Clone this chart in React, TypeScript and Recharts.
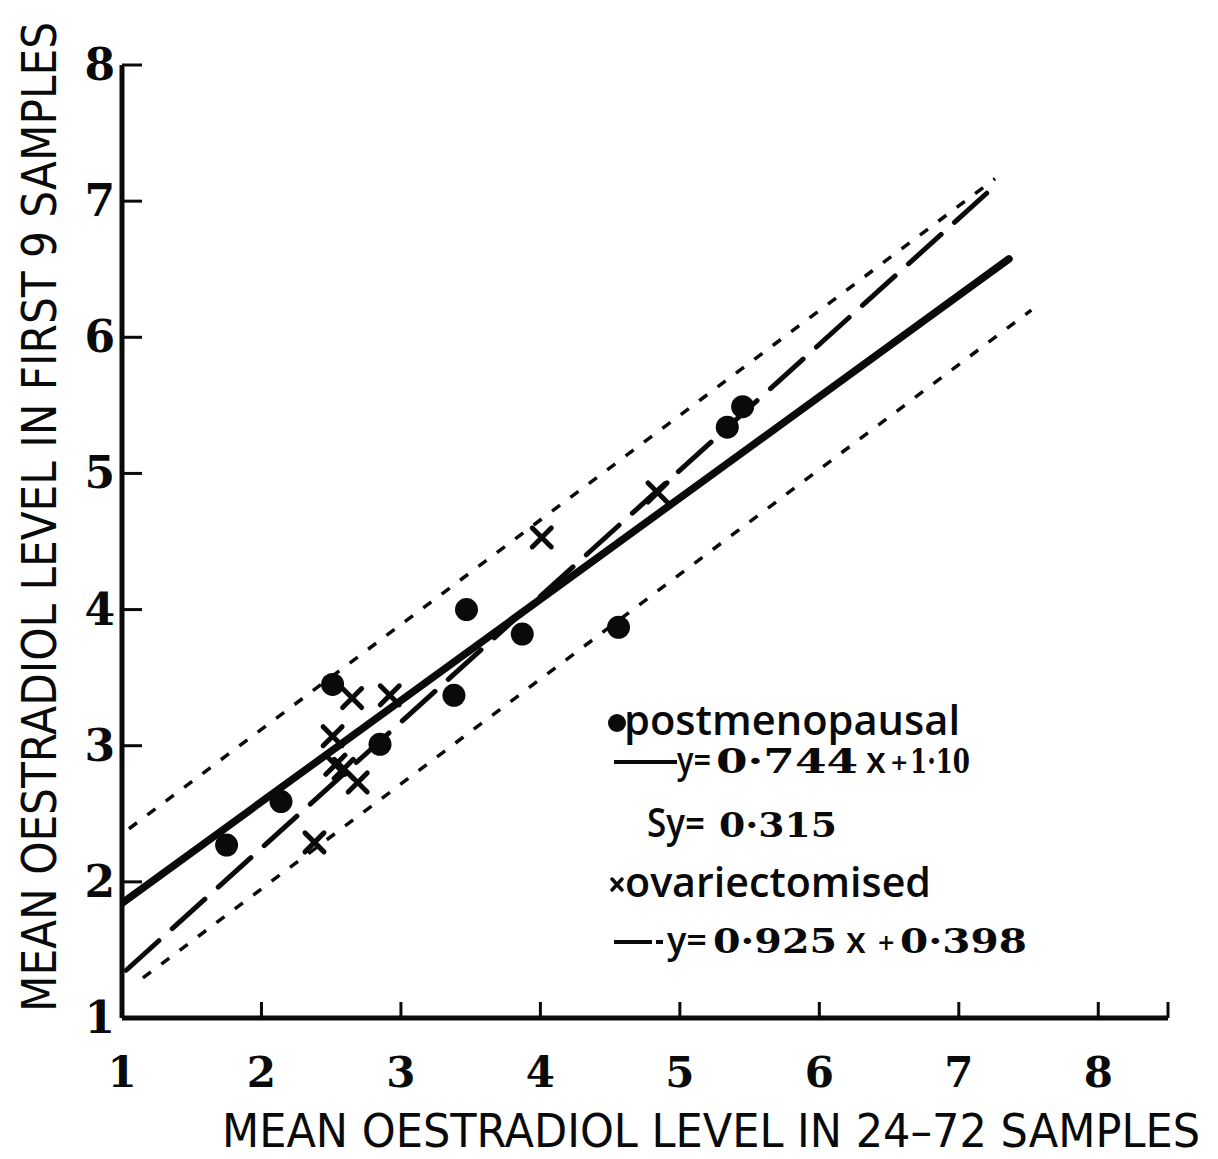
import { ComposedChart, Line, Scatter, XAxis, YAxis } from "recharts";

const xTicks = [1, 2, 3, 4, 5, 6, 7, 8, 8.5];
const yTicks = [1, 2, 3, 4, 5, 6, 7, 8];

// postmenopausal women (filled circles)
const postX = [1.75, 2.14, 2.51, 2.85, 3.38, 3.47, 3.87, 4.56, 5.34, 5.45];
const postY = [2.27, 2.59, 3.45, 3.01, 3.37, 4.0, 3.82, 3.87, 5.34, 5.49];

// ovariectomised women (crosses)
const ovxX = [2.38, 2.51, 2.53, 2.59, 2.65, 2.69, 2.92, 4.01, 4.84];
const ovxY = [2.29, 3.07, 2.86, 2.83, 3.35, 2.73, 3.37, 4.53, 4.86];

// regression fits from the key: [slope, intercept] and the x span drawn
const postFit = [0.744, 1.1];
const postFitSpan = [1, 7.36];
const ovxFit = [0.925, 0.398];
const ovxFitSpan = [1.03, 7.2];

// ±Sy band edges around the postmenopausal fit
const upperBandX = [1.05, 7.26];
const upperBandY = [2.39, 7.165];
const lowerBandX = [1.15, 7.52];
const lowerBandY = [1.294, 6.2];

const toPoints = (xs: number[], ys: number[]) => xs.map((x, i) => ({ x, y: ys[i] }));
const fitPoints = (fit: number[], span: number[]) =>
  span.map((x) => ({ x, y: fit[0] * x + fit[1] }));

const postData = toPoints(postX, postY);
const ovxData = toPoints(ovxX, ovxY);

const INK = "#0a0a0a";
const SERIF = "'DejaVu Serif', serif";
const SANS = "'Open Sans', 'DejaVu Sans', sans-serif";
const NARROW = "'Liberation Sans Narrow', 'DejaVu Sans Condensed', sans-serif";

const DotMark = (p: any) => <circle cx={p.cx} cy={p.cy} r={11.5} fill={INK} />;

const CrossMark = (p: any) => {
  const s = 9.5;
  return (
    <g stroke={INK} strokeWidth={5} strokeLinecap="round">
      <line x1={p.cx - s} y1={p.cy - s} x2={p.cx + s} y2={p.cy + s} />
      <line x1={p.cx - s} y1={p.cy + s} x2={p.cx + s} y2={p.cy - s} />
    </g>
  );
};

const XTick = (p: any) =>
  p.payload.value > 8 ? (
    <g />
  ) : (
    <text x={p.x} y={p.y} textAnchor="middle" fontFamily={SERIF} fontWeight="bold" fontSize={42} fill={INK}>
      {p.payload.value}
    </text>
  );

const YTick = (p: any) => (
  <text x={p.x} y={p.y + 15} textAnchor="end" fontFamily={SERIF} fontWeight="bold" fontSize={44} fill={INK}>
    {p.payload.value}
  </text>
);

function Key() {
  const num = { fontFamily: SERIF, fontWeight: "bold", fontSize: 34, fill: INK } as const;
  const word = { fontFamily: SANS, fontWeight: 600, fontSize: 42, fill: INK } as const;
  const fit = { lengthAdjust: "spacingAndGlyphs" } as const;
  return (
    <g>
      <circle cx={617} cy={723} r={9} fill={INK} />
      <text x={624} y={735} textLength={336} {...fit} {...word}>
        postmenopausal
      </text>

      <line x1={614} y1={762} x2={677} y2={762} stroke={INK} strokeWidth={4} />
      <text x={677} y={773} textLength={34} {...fit} {...word} fontSize={36}>y=</text>
      <text x={716} y={773} textLength={142} {...fit} {...num}>0·744</text>
      <text x={866} y={773} {...word} fontSize={36}>x</text>
      <text x={890} y={770} {...num} fontSize={22}>+</text>
      <text x={910} y={773} textLength={60} {...fit} {...num}>1·10</text>

      <text x={647} y={837} textLength={58} {...fit} {...word} fontSize={40}>Sy=</text>
      <text x={719} y={837} textLength={118} {...fit} {...num}>0·315</text>

      <g stroke={INK} strokeWidth={3.5} strokeLinecap="round">
        <line x1={612} y1={879} x2={622} y2={890} />
        <line x1={612} y1={890} x2={622} y2={879} />
      </g>
      <text x={625} y={897} textLength={306} {...fit} {...word}>
        ovariectomised
      </text>

      <line x1={614} y1={942} x2={652} y2={942} stroke={INK} strokeWidth={4} />
      <line x1={656} y1={942} x2={663} y2={942} stroke={INK} strokeWidth={4} />
      <text x={667} y={953} textLength={40} {...fit} {...word} fontSize={36}>y=</text>
      <text x={713} y={953} textLength={124} {...fit} {...num}>0·925</text>
      <text x={846} y={953} {...word} fontSize={36}>x</text>
      <text x={877} y={950} {...num} fontSize={22}>+</text>
      <text x={900} y={953} textLength={127} {...fit} {...num}>0·398</text>
    </g>
  );
}

export default function App() {
  return (
    <div style={{ position: "relative", width: 1218, height: 1159, background: "#fff" }}>
      <style>{"body{margin:0}"}</style>
      <ComposedChart width={1218} height={1159} margin={{ top: 65, right: 50, bottom: 111, left: 62 }}>
        <XAxis
          dataKey="x"
          type="number"
          domain={[1, 8.5]}
          ticks={xTicks}
          interval={0}
          allowDataOverflow
          axisLine={{ stroke: INK, strokeWidth: 5 }}
          tickLine={{ stroke: INK, strokeWidth: 3 }}
          tickSize={-16}
          tickMargin={85}
          tick={XTick}
        />
        <YAxis
          dataKey="y"
          type="number"
          domain={[1, 8]}
          ticks={yTicks}
          interval={0}
          allowDataOverflow
          axisLine={{ stroke: INK, strokeWidth: 5 }}
          tickLine={{ stroke: INK, strokeWidth: 3 }}
          tickSize={-20}
          tickMargin={27}
          tick={YTick}
        />
        <Line
          data={toPoints(upperBandX, upperBandY)}
          dataKey="y"
          type="linear"
          stroke={INK}
          strokeWidth={3.5}
          strokeDasharray="10 13"
          dot={false}
          isAnimationActive={false}
        />
        <Line
          data={toPoints(lowerBandX, lowerBandY)}
          dataKey="y"
          type="linear"
          stroke={INK}
          strokeWidth={3.5}
          strokeDasharray="10 13"
          dot={false}
          isAnimationActive={false}
        />
        <Line
          data={fitPoints(ovxFit, ovxFitSpan)}
          dataKey="y"
          type="linear"
          stroke={INK}
          strokeWidth={5}
          strokeLinecap="round"
          strokeDasharray="44 18"
          dot={false}
          isAnimationActive={false}
        />
        <Line
          data={fitPoints(postFit, postFitSpan)}
          dataKey="y"
          type="linear"
          stroke={INK}
          strokeWidth={7.5}
          strokeLinecap="round"
          dot={false}
          isAnimationActive={false}
        />
        <Scatter data={postData} shape={DotMark} isAnimationActive={false} />
        <Scatter data={ovxData} shape={CrossMark} isAnimationActive={false} />
      </ComposedChart>
      <svg
        width={1218}
        height={1159}
        style={{ position: "absolute", left: 0, top: 0, pointerEvents: "none" }}
      >
        <Key />
        <text
          transform="translate(56 517) rotate(-90)"
          textAnchor="middle"
          textLength={990}
          lengthAdjust="spacingAndGlyphs"
          fontFamily={NARROW}
          fontSize={48}
          fill={INK}
        >
          MEAN OESTRADIOL LEVEL IN FIRST 9 SAMPLES
        </text>
        <text
          x={711}
          y={1147}
          textAnchor="middle"
          textLength={978}
          lengthAdjust="spacingAndGlyphs"
          fontFamily={NARROW}
          fontSize={46}
          fill={INK}
        >
          MEAN  OESTRADIOL LEVEL IN 24–72 SAMPLES
        </text>
      </svg>
    </div>
  );
}
